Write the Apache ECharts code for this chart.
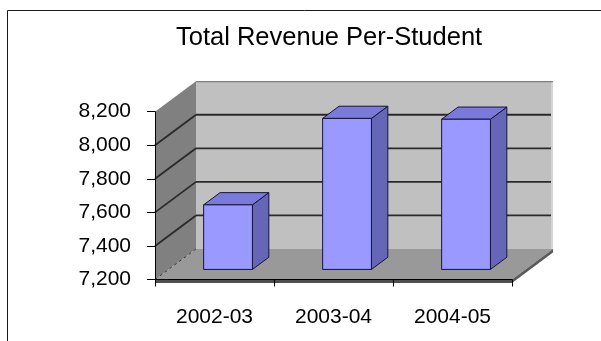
<!DOCTYPE html>
<html>
<head>
<meta charset="utf-8">
<script src="https://cdn.jsdelivr.net/npm/echarts@6/dist/echarts.min.js"></script>
<style>
  html, body { margin: 0; padding: 0; background: #fff; }
  #chart { width: 601px; height: 341px; }
</style>
</head>
<body>
<div id="chart"></div>
<script>
// Chart data
const categories = ['2002-03', '2003-04', '2004-05'];
const revenue = [7585, 8100, 8095];
const valueTicks = [7200, 7400, 7600, 7800, 8000, 8200];

// 3D projection settings (pixels for the full plot depth)
const DEPTH = [41, -30.5];
const BAR_FRONT = 0.33;   // front face of the bars, as a fraction of depth
const BAR_DEPTH = 0.4;    // bar thickness, as a fraction of depth
const BAR_WIDTH = 0.41;   // share of the category band

const FONT = 'Liberation Sans, Arial, sans-serif';

function renderWalls(params, api) {
  const cs = params.coordSys;
  const x0 = cs.x, x1 = cs.x + cs.width;
  const yTop = cs.y, yBot = cs.y + cs.height;
  const dx = DEPTH[0], dy = DEPTH[1];
  const children = [];

  // back wall
  children.push({
    type: 'polygon',
    shape: { points: [[x0 + dx, yTop + dy], [x1 + dx, yTop + dy], [x1 + dx, yBot + dy], [x0 + dx, yBot + dy]] },
    style: { fill: '#C0C0C0' }
  });
  children.push({
    type: 'line',
    shape: { x1: x1 + dx - 1, y1: yTop + dy, x2: x1 + dx - 1, y2: yBot + dy },
    style: { stroke: '#D4D4D4', lineWidth: 2 }
  });
  children.push({
    type: 'line',
    shape: { x1: x0 + dx, y1: yTop + dy + 0.5, x2: x1 + dx, y2: yTop + dy + 0.5 },
    style: { stroke: '#6A6A6A', lineWidth: 1 }
  });

  // gridlines on the back wall
  valueTicks.slice(1, -1).forEach(function (v) {
    const y = api.coord([0, v])[1];
    children.push({
      type: 'line',
      shape: { x1: x0 + dx, y1: y + dy, x2: x1 + dx - 2, y2: y + dy },
      style: { stroke: '#2A2A2A', lineWidth: 1.8 }
    });
  });

  // left side wall
  children.push({
    type: 'polygon',
    shape: { points: [[x0, yTop], [x0 + dx, yTop + dy], [x0 + dx, yBot + dy], [x0, yBot]] },
    style: { fill: '#808080' }
  });
  valueTicks.slice(1, -1).forEach(function (v) {
    const y = api.coord([0, v])[1];
    children.push({
      type: 'line',
      shape: { x1: x0, y1: y, x2: x0 + dx, y2: y + dy },
      style: { stroke: '#2A2A2A', lineWidth: 1.8 }
    });
  });

  // floor
  children.push({
    type: 'polygon',
    shape: { points: [[x0, yBot], [x1, yBot], [x1 + dx, yBot + dy], [x0 + dx, yBot + dy]] },
    style: { fill: '#999999' }
  });
  children.push({
    type: 'line',
    shape: { x1: x0, y1: yBot, x2: x0 + dx, y2: yBot + dy },
    style: { stroke: '#3A3A3A', lineWidth: 1, lineDash: [3, 3] }
  });
  // floor thickness
  const t = 3.5;
  children.push({
    type: 'polygon',
    shape: { points: [[x0, yBot], [x1, yBot], [x1, yBot + t], [x0, yBot + t]] },
    style: { fill: '#4E4E4E' }
  });
  children.push({
    type: 'polygon',
    shape: { points: [[x1, yBot], [x1 + dx, yBot + dy], [x1 + dx, yBot + dy + t], [x1, yBot + t]] },
    style: { fill: '#5A5A5A' }
  });

  return { type: 'group', children: children };
}

function renderBar(params, api) {
  const i = api.value(0);
  const v = api.value(1);
  const base = api.coord([i, valueTicks[0]]);
  const top = api.coord([i, v]);
  const w = api.size([1, 0])[0] * BAR_WIDTH;
  const ox = DEPTH[0] * BAR_FRONT, oy = DEPTH[1] * BAR_FRONT;
  const bx = DEPTH[0] * BAR_DEPTH, by = DEPTH[1] * BAR_DEPTH;
  const L = base[0] - w / 2 + ox, R = L + w;
  const B = base[1] + oy, T = top[1] + oy;
  const edge = { stroke: '#14143C', lineWidth: 1, lineJoin: 'round' };
  return {
    type: 'group',
    children: [
      {
        type: 'polygon',
        shape: { points: [[R, T], [R + bx, T + by], [R + bx, B + by], [R, B]] },
        style: Object.assign({ fill: '#6666B8' }, edge)
      },
      {
        type: 'polygon',
        shape: { points: [[L, T], [R, T], [R + bx, T + by], [L + bx, T + by]] },
        style: Object.assign({ fill: '#7A7ADA' }, edge)
      },
      {
        type: 'polygon',
        shape: { points: [[L, T], [R, T], [R, B], [L, B]] },
        style: Object.assign({ fill: '#9999FF' }, edge)
      }
    ]
  };
}

const chart = echarts.init(document.getElementById('chart'), null, { renderer: 'canvas' });

chart.setOption({
  backgroundColor: '#FFFFFF',
  animation: false,
  title: {
    text: 'Total Revenue Per-Student',
    left: 176,
    top: 25,
    padding: 0,
    textStyle: { fontFamily: FONT, fontSize: 25.5, fontWeight: 'normal', color: '#000' }
  },
  graphic: [{
    type: 'rect',
    shape: { x: 7.5, y: 10.5, width: 640, height: 400 },
    style: { fill: 'none', stroke: '#1A1A1A', lineWidth: 1 },
    z: 100
  }],
  grid: { left: 155, top: 111.7, width: 357, height: 167.8, containLabel: false },
  xAxis: {
    type: 'category',
    data: categories,
    z: 5,
    axisLine: { show: true, lineStyle: { color: '#000', width: 1 } },
    axisTick: { show: true, length: 7, lineStyle: { color: '#000' } },
    axisLabel: { fontFamily: FONT, fontSize: 21, color: '#000', margin: 27 },
    splitLine: { show: false }
  },
  yAxis: {
    type: 'value',
    min: 7200,
    max: 8200,
    interval: 200,
    z: 5,
    axisLine: { show: true, lineStyle: { color: '#000', width: 1 } },
    axisTick: { show: true, length: 8, lineStyle: { color: '#000' } },
    axisLabel: {
      fontFamily: FONT, fontSize: 21, color: '#000', margin: 24,
      formatter: function (v) { return v.toLocaleString('en-US'); }
    },
    splitLine: { show: false }
  },
  series: [
    {
      type: 'custom',
      z: 1,
      silent: true,
      renderItem: renderWalls,
      data: [[0, valueTicks[0]]]
    },
    {
      type: 'custom',
      z: 2,
      renderItem: renderBar,
      data: revenue.map(function (v, i) { return [i, v]; })
    }
  ]
});
</script>
</body>
</html>
